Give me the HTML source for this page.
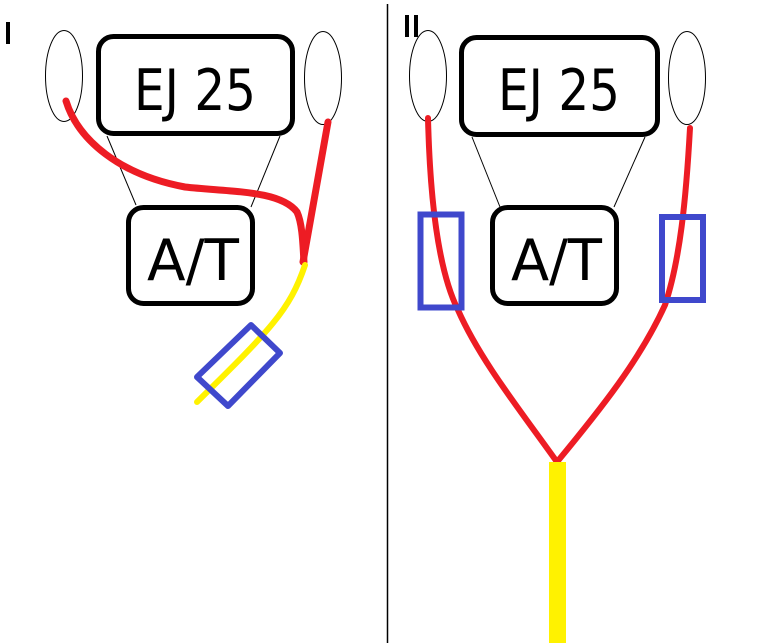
<!DOCTYPE html>
<html><head><meta charset="utf-8"><style>
html,body{margin:0;padding:0;background:#fff;}
svg{display:block;}
text{font-family:"DejaVu Sans","Liberation Sans",sans-serif;}
</style></head><body>
<svg width="776" height="643" viewBox="0 0 776 643" xmlns="http://www.w3.org/2000/svg">
<rect width="776" height="643" fill="#fff"/>
<line x1="387.5" y1="4" x2="387.5" y2="643" stroke="#000" stroke-width="1.5"/>
<!-- Panel I -->
<rect x="6" y="22" width="4" height="22" fill="#000"/>
<ellipse cx="64" cy="76" rx="18.5" ry="45.5" fill="none" stroke="#000" stroke-width="1"/>
<ellipse cx="323" cy="78" rx="18.5" ry="46.5" fill="none" stroke="#000" stroke-width="1"/>
<line x1="107" y1="136" x2="136" y2="205" stroke="#000" stroke-width="1"/>
<line x1="280" y1="136" x2="251" y2="207" stroke="#000" stroke-width="1"/>
<rect x="98.5" y="36.5" width="194" height="97" rx="15" fill="#fff" stroke="#000" stroke-width="5"/>
<text x="134" y="110" font-size="57" textLength="122" lengthAdjust="spacingAndGlyphs">EJ 25</text>
<rect x="128.5" y="207.5" width="124" height="96" rx="15" fill="#fff" stroke="#000" stroke-width="5"/>
<text x="147" y="280" font-size="57" textLength="92" lengthAdjust="spacingAndGlyphs">A/T</text>
<path d="M66 101 C78 140 120 175 185 187 C230 192 280 190 297 212 C303 225 303 250 304 262" fill="none" stroke="#ed1c24" stroke-width="7" stroke-linecap="round"/>
<path d="M328 122 L303 262" fill="none" stroke="#ed1c24" stroke-width="7" stroke-linecap="round"/>
<path d="M305 265 C290 310 270 330 197 402" fill="none" stroke="#fff200" stroke-width="6" stroke-linecap="round"/>
<polygon points="197,377 251,325 280,353 228,406" fill="none" stroke="#3f48cc" stroke-width="6" stroke-linejoin="round"/>
<!-- Panel II -->
<rect x="405" y="15" width="4" height="22" fill="#000"/>
<rect x="414" y="15" width="4" height="22" fill="#000"/>
<ellipse cx="428" cy="76" rx="18.5" ry="45.5" fill="none" stroke="#000" stroke-width="1"/>
<ellipse cx="687" cy="78" rx="18.5" ry="46.5" fill="none" stroke="#000" stroke-width="1"/>
<line x1="472" y1="137" x2="500" y2="207" stroke="#000" stroke-width="1"/>
<line x1="645" y1="137" x2="614" y2="207" stroke="#000" stroke-width="1"/>
<rect x="461.5" y="37.5" width="196" height="97" rx="15" fill="#fff" stroke="#000" stroke-width="5"/>
<text x="498" y="110" font-size="57" textLength="122" lengthAdjust="spacingAndGlyphs">EJ 25</text>
<rect x="492.5" y="207.5" width="124" height="96" rx="15" fill="#fff" stroke="#000" stroke-width="5"/>
<text x="511" y="280" font-size="57" textLength="91" lengthAdjust="spacingAndGlyphs">A/T</text>
<path d="M428 118 C430 200 438 270 458 310 C480 360 520 410 557 462" fill="none" stroke="#ed1c24" stroke-width="6" stroke-linecap="round"/>
<path d="M690 128 C686 200 680 260 665 305 C640 360 600 410 557 462" fill="none" stroke="#ed1c24" stroke-width="6" stroke-linecap="round"/>
<rect x="549" y="462" width="17" height="181" fill="#fff200"/>
<rect x="420.5" y="214.5" width="41" height="93" fill="none" stroke="#3f48cc" stroke-width="6"/>
<rect x="662" y="217" width="41" height="83" fill="none" stroke="#3f48cc" stroke-width="6"/>
</svg>
</body></html>
